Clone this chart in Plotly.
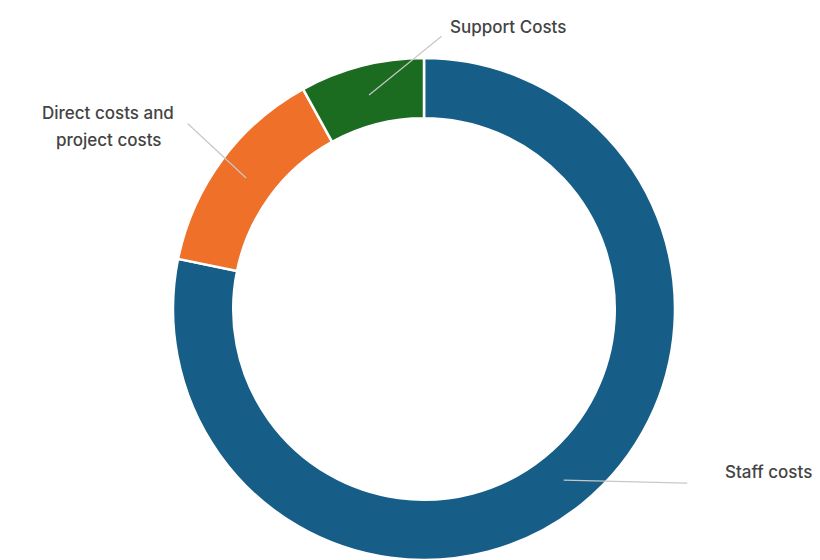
import math
import plotly.graph_objects as go

categories = ["Staff costs", "Direct costs and project costs", "Support Costs"]
values = [78.2, 13.8, 8.0]
colors = ["#165e87", "#ee7029", "#1b6b21"]

W, H = 820, 560
TOP = 58
R = (H - TOP) / 2
CX, CY = 424, TOP + R
HOLE = 0.76


def xp(px):
    return px / W


def yp(py):
    # paper coordinates are relative to the plot area (below the top margin)
    return (H - py) / (H - TOP)


fig = go.Figure(go.Pie(
    labels=categories,
    values=values,
    hole=HOLE,
    sort=False,
    direction="clockwise",
    rotation=0,
    marker=dict(colors=colors, line=dict(color="white", width=2.5)),
    textinfo="none",
    hoverinfo="label+percent",
    showlegend=False,
    domain=dict(x=[(CX - 300) / W, (CX + 300) / W], y=[0, 1]),
))

# leader lines: start at the middle of each slice, computed from the data
total = sum(values)
tails = {  # pixel offsets from slice point to leader-line outer end
    "Staff costs": (125, 3),
    "Direct costs and project costs": (-60, -56),
    "Support Costs": (74, -60),
}
annotations = []
cum = 0.0
for cat, v in zip(categories, values):
    mid = (cum + v / 2) / total * 2 * math.pi
    cum += v
    rr = 0.88 * R
    px = CX + rr * math.sin(mid)
    py = CY - rr * math.cos(mid)
    ax, ay = tails[cat]
    annotations.append(dict(
        x=xp(px), y=yp(py), xref="paper", yref="paper",
        text="", showarrow=True, arrowhead=0, arrowwidth=1.2,
        arrowcolor="#c8c8c8", ax=ax, ay=ay, standoff=0, startstandoff=0,
    ))

font = dict(family="Inter, Roboto, sans-serif", size=17, color="#444444", weight=500)
labels_pos = [
    ("Support Costs", 508, 27),
    ("Direct costs and", 108, 113),
    ("project costs", 108, 140),
    ("Staff costs", 768, 472),
]
for t, x, y in labels_pos:
    annotations.append(dict(
        x=xp(x), y=yp(y), xref="paper", yref="paper", text=t,
        showarrow=False, font=font, xanchor="center", yanchor="middle",
    ))

fig.update_layout(
    width=W, height=H,
    margin=dict(l=0, r=0, t=TOP, b=0),
    paper_bgcolor="white", plot_bgcolor="white",
    annotations=annotations,
)

fig.write_html("out.html")
